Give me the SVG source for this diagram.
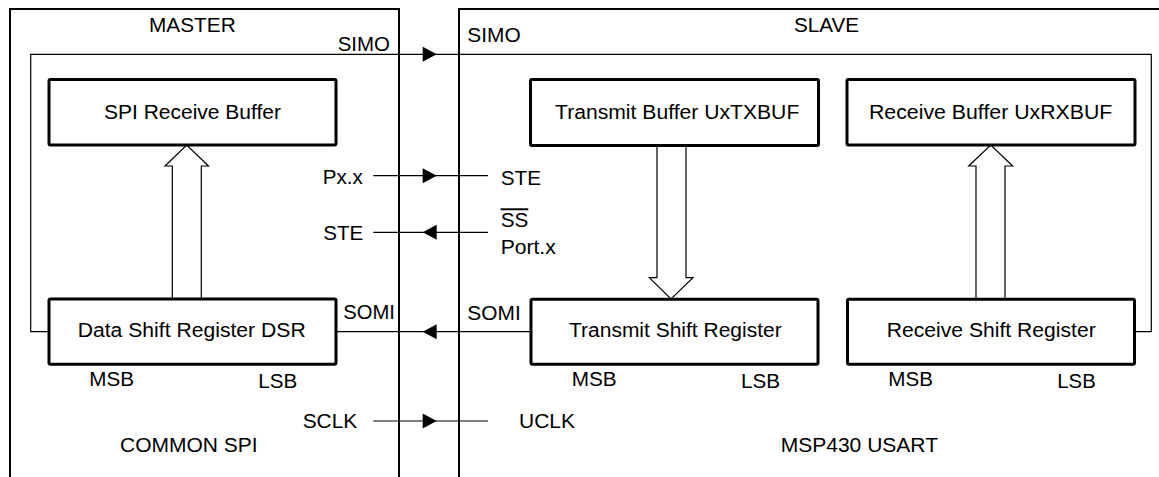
<svg xmlns="http://www.w3.org/2000/svg" width="1159" height="477" viewBox="0 0 1159 477">
<style>
text{font-family:"Liberation Sans",Arial,Helvetica,sans-serif;font-size:19.5px;fill:#000}
.box{fill:#fff;stroke:#000;stroke-width:3}
.frame{fill:none;stroke:#000;stroke-width:2}
.wire{fill:none;stroke:#000;stroke-width:1.2}
.hollow{fill:#fff;stroke:#000;stroke-width:1.2;stroke-linejoin:miter}
.head{fill:#000}
</style>
<defs>
<path id="triR" d="M0,-7.5 L14,0 L0,7.5 Z"/>
<path id="triL" d="M14,-7.5 L0,0 L14,7.5 Z"/>
</defs>
<rect width="1159" height="477" fill="#fff"/>

<g id="master">
<path class="frame" d="M10,477 V9 H399 V477"/>
<text x="149" y="32.3" textLength="86.7" lengthAdjust="spacingAndGlyphs">MASTER</text>
<text x="120" y="452.3" textLength="137.7" lengthAdjust="spacingAndGlyphs">COMMON SPI</text>
</g>

<g id="slave">
<path class="frame" d="M459,477 V9 H1165"/>
<text x="794" y="32.3" textLength="65" lengthAdjust="spacingAndGlyphs">SLAVE</text>
<text x="780.7" y="452.3" textLength="157.3" lengthAdjust="spacingAndGlyphs">MSP430 USART</text>
</g>

<g id="connectors">
<path class="wire" d="M49,331.7 H30.7 V54.3 H1151.3 V331.7 H1134.3"/>
<use href="#triR" class="head" x="422.7" y="54.3"/>
<path class="wire" d="M373.3,175.7 H488"/>
<use href="#triR" class="head" x="422.7" y="175.7"/>
<path class="wire" d="M373.3,232.3 H488"/>
<use href="#triL" class="head" x="422.7" y="232.3"/>
<path class="wire" d="M336,331.7 H531"/>
<use href="#triL" class="head" x="422.7" y="331.7"/>
<path class="wire" d="M373.3,421 H488"/>
<use href="#triR" class="head" x="422.7" y="421"/>
<polygon class="hollow" points="172.3,299 172.3,166 165,166 186.7,145 208.5,166 201.3,166 201.3,299"/>
<polygon class="hollow" points="657,145 657,277.7 649.3,277.7 671,299 693,277.7 686,277.7 686,145"/>
<polygon class="hollow" points="976,299 976,166 968.7,166 990.7,145 1012.7,166 1005,166 1005,299"/>
</g>

<g id="signal-labels">
<text x="337.7" y="50.7" textLength="52.3" lengthAdjust="spacingAndGlyphs">SIMO</text>
<text x="467.3" y="42" textLength="53.4" lengthAdjust="spacingAndGlyphs">SIMO</text>
<text x="322.7" y="184.3" textLength="40" lengthAdjust="spacingAndGlyphs">Px.x</text>
<text x="500.7" y="185" textLength="40.3" lengthAdjust="spacingAndGlyphs">STE</text>
<text x="323.3" y="240" textLength="40" lengthAdjust="spacingAndGlyphs">STE</text>
<text x="500.7" y="227.3" textLength="27.6" lengthAdjust="spacingAndGlyphs" text-decoration="overline">SS</text>
<text x="500.7" y="254.3" textLength="55" lengthAdjust="spacingAndGlyphs">Port.x</text>
<text x="343.3" y="319.3" textLength="51.7" lengthAdjust="spacingAndGlyphs">SOMI</text>
<text x="467.3" y="320" textLength="53.4" lengthAdjust="spacingAndGlyphs">SOMI</text>
<text x="302.7" y="427.7" textLength="54.6" lengthAdjust="spacingAndGlyphs">SCLK</text>
<text x="519" y="428.3" textLength="56" lengthAdjust="spacingAndGlyphs">UCLK</text>
</g>

<g id="spi-receive-buffer">
<rect class="box" x="49" y="79.5" width="287" height="65.5" rx="1.5"/>
<text x="104" y="119" textLength="177" lengthAdjust="spacingAndGlyphs">SPI Receive Buffer</text>
</g>

<g id="data-shift-register">
<rect class="box" x="49" y="299" width="287" height="65.3" rx="1.5"/>
<text x="77.7" y="337.3" textLength="228" lengthAdjust="spacingAndGlyphs">Data Shift Register DSR</text>
<text x="89.3" y="386" textLength="44.7" lengthAdjust="spacingAndGlyphs">MSB</text>
<text x="258.3" y="388.3" textLength="39" lengthAdjust="spacingAndGlyphs">LSB</text>
</g>

<g id="transmit-buffer">
<rect class="box" x="530.5" y="79.5" width="288" height="66" rx="1.5"/>
<text x="555" y="119" textLength="244.3" lengthAdjust="spacingAndGlyphs">Transmit Buffer UxTXBUF</text>
</g>

<g id="receive-buffer">
<rect class="box" x="847" y="79.5" width="288" height="65.5" rx="1.5"/>
<text x="869" y="119" textLength="243.3" lengthAdjust="spacingAndGlyphs">Receive Buffer UxRXBUF</text>
</g>

<g id="transmit-shift-register">
<rect class="box" x="531" y="299.3" width="287" height="65" rx="1.5"/>
<text x="569" y="337.3" textLength="212.7" lengthAdjust="spacingAndGlyphs">Transmit Shift Register</text>
<text x="571.7" y="386" textLength="45" lengthAdjust="spacingAndGlyphs">MSB</text>
<text x="741" y="388.3" textLength="39" lengthAdjust="spacingAndGlyphs">LSB</text>
</g>

<g id="receive-shift-register">
<rect class="box" x="847.5" y="299.3" width="287" height="65" rx="1.5"/>
<text x="886.7" y="337.3" textLength="209" lengthAdjust="spacingAndGlyphs">Receive Shift Register</text>
<text x="888.3" y="386" textLength="44.7" lengthAdjust="spacingAndGlyphs">MSB</text>
<text x="1057.3" y="388.3" textLength="38.4" lengthAdjust="spacingAndGlyphs">LSB</text>
</g>
</svg>
